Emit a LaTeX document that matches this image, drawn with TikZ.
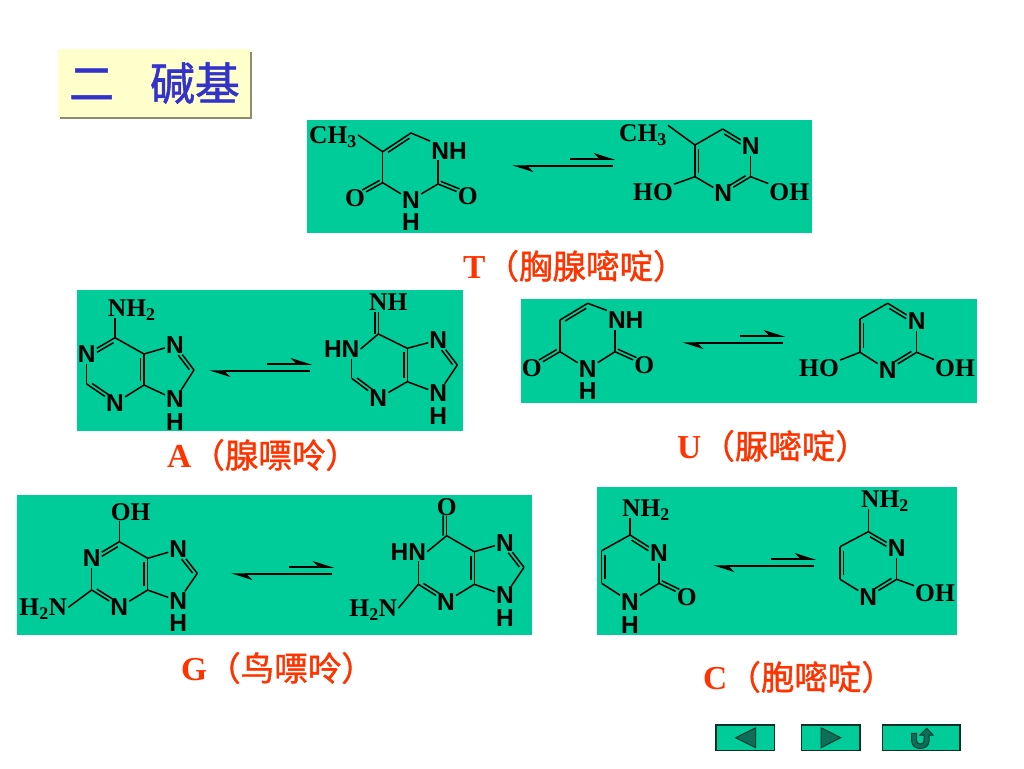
\documentclass[tikz,border=0pt]{standalone}
\usepackage{fontspec}
\setmainfont{Liberation Serif}
\newfontfamily\atomfont{Liberation Sans}
\newfontfamily\cjkfont[FakeBold=1.2]{Noto Sans CJK SC}
\usetikzlibrary{arrows.meta,calc,shadows}
\definecolor{panelgreen}{RGB}{0,204,153}
\definecolor{labelred}{RGB}{255,51,0}
\definecolor{titleblue}{RGB}{51,51,204}
\definecolor{titlefill}{RGB}{255,255,204}
\definecolor{navdark}{RGB}{15,110,90}
\newcommand{\dbl}[5]{\draw[bond] ($(#1)!#4!(#2)!3.5pt!#3:(#2)$) to ($(#2)!#5!(#1)!3.5pt!-#3:(#1)$);}

\begin{document}
\begin{tikzpicture}[x=1pt,y=-1pt]
            \tikzset{panel/.style = {fill=panelgreen}}
            \tikzset{atom/.style = {font=\atomfont\bfseries\fontsize{24.5}{24.5}\selectfont,inner sep=1pt}}
            \tikzset{group/.style = {font=\bfseries\fontsize{25.5}{25.5}\selectfont,inner sep=1pt,text depth=0pt}}
            \tikzset{bond/.style = {line width=1.5pt}}
            \tikzset{edge/.style = {line width=1.5pt}}
            \tikzset{halftip/.style = {-{Stealth[length=19pt,width=12pt,inset=6pt,left]}}}
            \tikzset{name label/.style = {font=\fontsize{33.5}{33.5}\selectfont,text=labelred,inner sep=0pt,anchor=west}}
            \tikzset{navbox/.style = {fill=panelgreen,draw=black!75!panelgreen,line width=1.2pt}}
            \tikzset{navmark/.style = {fill=navdark,draw=black!70!panelgreen,line width=1pt}}
            \useasboundingbox (0,0) rectangle (1024,768);

            \node[fill=titlefill,minimum width=192pt,minimum height=67pt,inner sep=0pt,text=titleblue,
                  font=\cjkfont\fontsize{45}{45}\selectfont,
                  general shadow={fill=black!45!titlefill,shadow xshift=2.5pt,shadow yshift=-2.5pt}]
                  (title) at (153.5,83) {\raisebox{-5pt}{\hspace{2pt}二\hspace{36pt}碱基}};

            \fill[panel] (307,119.5) rectangle (812,233);
            \fill[panel] (77,290) rectangle (463,431);
            \fill[panel] (520.5,299) rectangle (977,403);
            \fill[panel] (17,495) rectangle (531.5,635);
            \fill[panel] (597,487) rectangle (957,635);

            \node[name label] (tname) at (463,266) {\textbf{T}{\cjkfont（胸腺嘧啶）}};
            \node[name label] (aname) at (167,455) {\textbf{A}{\cjkfont（腺嘌呤）}};
            \node[name label] (uname) at (677,446) {\textbf{U}{\cjkfont（脲嘧啶）}};
            \node[name label] (gname) at (181,668) {\textbf{G}{\cjkfont（鸟嘌呤）}};
            \node[name label] (cname) at (703,677) {\textbf{C}{\cjkfont（胞嘧啶）}};

            \foreach \n/\x/\y in {t/613/166,a/310/371,u/783/343,g/332/574,c/814/566} {
                \coordinate (\n low) at (\x,\y);
                \coordinate (\n tip) at (\x-101,\y);
                \coordinate (\n up) at (\x-43,\y-7);
                \coordinate (\n end) at (\x+2,\y-7);
                \draw[edge,halftip] (\n low) to (\n tip);
                \draw[edge,halftip] (\n up) to (\n end);
            }

            \node[group] (tlch) at (333,135) {CH\textsubscript{3}};
            \coordinate (tlc5) at (382.7,151.7);
            \coordinate (tlc6) at (411,133);
            \node[atom] (tln1) at (449,150.7) {NH};
            \coordinate (tlc2) at (438,184);
            \node[atom] (tln3) at (411,200) {N};
            \node[atom] (tlh) at (411,222.5) {H};
            \coordinate (tlc4) at (382.7,182.7);
            \node[group] (tlo4) at (355,198) {O};
            \node[group] (tlo2) at (467.7,196) {O};
            \draw[bond] (tlc5) to (tlch.east);
            \draw[bond] (tlc5) to (tlc6);
            \dbl{tlc5}{tlc6}{-90}{.12}{.12}
            \draw[bond] (tlc6) to (tln1.north west);
            \draw[bond] (tlc2) to (tlc2 |- tln1.south);
            \draw[bond] (tlc2) to (tln3);
            \draw[bond] (tln3) to (tlc4);
            \draw[bond] (tlc4) to (tlc5);
            \draw[bond] (tlc4) to (tlo4);
            \dbl{tlc4}{tlo4}{-90}{.05}{.32}
            \draw[bond] (tlc2) to (tlo2);
            \dbl{tlc2}{tlo2}{90}{.05}{.32}

            \node[group] (trch) at (643,133) {CH\textsubscript{3}};
            \coordinate (trc5) at (695,145);
            \coordinate (trc6) at (722.7,129);
            \node[atom] (trn1) at (750.7,146) {N};
            \coordinate (trc2) at (750.7,176.7);
            \node[atom] (trn3) at (723.3,193.3) {N};
            \coordinate (trc4) at (695,176.7);
            \node[group] (tro4) at (653,191.7) {HO};
            \node[group] (tro2) at (789.3,191.7) {OH};
            \draw[bond] (trc5) to (trch.17);
            \draw[bond] (trc5) to (trc6);
            \draw[bond] (trc6) to (trn1);
            \dbl{trc6}{trn1}{-90}{.12}{.3}
            \draw[bond] (trn1) to (trc2);
            \draw[bond] (trc2) to (trn3);
            \dbl{trc2}{trn3}{-90}{.12}{.3}
            \draw[bond] (trn3) to (trc4);
            \draw[bond] (trc4) to (trc5);
            \dbl{trc4}{trc5}{-90}{.12}{.12}
            \draw[bond] (trc4) to (tro4);
            \draw[bond] (trc2) to (tro2);

            \node[group] (alnh) at (131.7,308) {NH\textsubscript{2}};
            \coordinate (alc6) at (115,337.7);
            \node[atom] (aln1) at (86.7,354.3) {N};
            \coordinate (alc2) at (86.7,384);
            \node[atom] (aln3) at (115,403.3) {N};
            \coordinate (alc4) at (144,385);
            \coordinate (alc5) at (144,354);
            \node[atom] (aln7) at (175,345) {N};
            \coordinate (alc8) at (194,370);
            \node[atom] (aln9) at (175,399.5) {N};
            \node[atom] (alh) at (175,422) {H};
            \draw[bond] (alc6) to (alc6 |- alnh.south);
            \draw[bond] (alc6) to (aln1);
            \dbl{alc6}{aln1}{90}{.12}{.3}
            \draw[bond] (aln1) to (alc2);
            \draw[bond] (alc2) to (aln3);
            \dbl{alc2}{aln3}{90}{.12}{.3}
            \draw[bond] (aln3) to (alc4);
            \draw[bond] (alc4) to (alc5);
            \dbl{alc4}{alc5}{90}{.12}{.12}
            \draw[bond] (alc5) to (alc6);
            \draw[bond] (alc5) to (aln7);
            \draw[bond] (aln7) to (alc8);
            \dbl{aln7}{alc8}{-90}{.32}{.1}
            \draw[bond] (alc8) to (aln9);
            \draw[bond] (aln9) to (alc4);

            \node[group] (arnh) at (388.3,302) {NH};
            \coordinate (artop) at (378.3,312);
            \coordinate (arc6) at (378.3,334);
            \node[atom] (arn1) at (341.7,349) {HN};
            \coordinate (arc2) at (351.7,378.3);
            \node[atom] (arn3) at (378.3,398.3) {N};
            \coordinate (arc4) at (407.3,381.7);
            \coordinate (arc5) at (407.3,348.3);
            \node[atom] (arn7) at (438.3,340) {N};
            \coordinate (arc8) at (457.3,365);
            \node[atom] (arn9) at (438.3,393.3) {N};
            \node[atom] (arh) at (438.3,416) {H};
            \draw[bond] (arc6) to (artop);
            \dbl{arc6}{artop}{90}{0}{0}
            \draw[bond] (arc6) to (arn1.east);
            \draw[bond] (arc2) to (arc2 |- arn1.south);
            \draw[bond] (arc2) to (arn3);
            \dbl{arc2}{arn3}{90}{.12}{.3}
            \draw[bond] (arn3) to (arc4);
            \draw[bond] (arc4) to (arc5);
            \dbl{arc4}{arc5}{90}{.12}{.12}
            \draw[bond] (arc5) to (arc6);
            \draw[bond] (arc5) to (arn7);
            \draw[bond] (arn7) to (arc8);
            \dbl{arn7}{arc8}{-90}{.32}{.1}
            \draw[bond] (arc8) to (arn9);
            \draw[bond] (arn9) to (arc4);

            \coordinate (ulc5) at (560,320);
            \coordinate (ulc6) at (587.7,303.3);
            \node[atom] (uln1) at (625.7,320) {NH};
            \coordinate (ulc2) at (615,351.7);
            \node[atom] (uln3) at (587.7,369) {N};
            \node[atom] (ulh) at (587.7,391.5) {H};
            \coordinate (ulc4) at (560,351.7);
            \node[group] (ulo4) at (531.7,368.3) {O};
            \node[group] (ulo2) at (644.3,365) {O};
            \draw[bond] (ulc5) to (ulc6);
            \dbl{ulc5}{ulc6}{-90}{.12}{.12}
            \draw[bond] (ulc6) to (uln1.north west);
            \draw[bond] (ulc2) to (ulc2 |- uln1.south);
            \draw[bond] (ulc2) to (uln3);
            \draw[bond] (uln3) to (ulc4);
            \draw[bond] (ulc4) to (ulc5);
            \draw[bond] (ulc4) to (ulo4);
            \dbl{ulc4}{ulo4}{-90}{.05}{.32}
            \draw[bond] (ulc2) to (ulo2);
            \dbl{ulc2}{ulo2}{90}{.05}{.32}

            \coordinate (urc5) at (860,319);
            \coordinate (urc6) at (887.7,303.3);
            \node[atom] (urn1) at (916.7,321) {N};
            \coordinate (urc2) at (916.7,352.3);
            \node[atom] (urn3) at (887.7,370) {N};
            \coordinate (urc4) at (860,352.3);
            \node[group] (uro4) at (819,368.3) {HO};
            \node[group] (uro2) at (955,368.3) {OH};
            \draw[bond] (urc5) to (urc6);
            \draw[bond] (urc6) to (urn1);
            \dbl{urc6}{urn1}{-90}{.12}{.3}
            \draw[bond] (urn1) to (urc2);
            \draw[bond] (urc2) to (urn3);
            \dbl{urc2}{urn3}{-90}{.12}{.3}
            \draw[bond] (urn3) to (urc4);
            \draw[bond] (urc4) to (urc5);
            \dbl{urc4}{urc5}{-90}{.12}{.12}
            \draw[bond] (urc4) to (uro4);
            \draw[bond] (urc2) to (uro2);

            \node[group] (gloh) at (130.7,511.7) {OH};
            \coordinate (glc6) at (119.3,541.7);
            \node[atom] (gln1) at (91.7,558.3) {N};
            \coordinate (glc2) at (91.7,590);
            \node[atom] (gln3) at (119.3,607.3) {N};
            \coordinate (glc4) at (147.7,590);
            \coordinate (glc5) at (147.7,558.3);
            \node[atom] (gln7) at (178.3,549.3) {N};
            \coordinate (glc8) at (197.3,573.3);
            \node[atom] (gln9) at (178.3,601) {N};
            \node[atom] (glh) at (178.3,623.5) {H};
            \node[group] (glnh) at (43.3,607.3) {H\textsubscript{2}N};
            \draw[bond] (glc6) to (glc6 |- gloh.south);
            \draw[bond] (glc6) to (gln1);
            \dbl{glc6}{gln1}{90}{.12}{.3}
            \draw[bond] (gln1) to (glc2);
            \draw[bond] (glc2) to (gln3);
            \dbl{glc2}{gln3}{90}{.12}{.3}
            \draw[bond] (glc2) to (glnh.east);
            \draw[bond] (gln3) to (glc4);
            \draw[bond] (glc4) to (glc5);
            \dbl{glc4}{glc5}{90}{.12}{.12}
            \draw[bond] (glc5) to (glc6);
            \draw[bond] (glc5) to (gln7);
            \draw[bond] (gln7) to (glc8);
            \dbl{gln7}{glc8}{-90}{.32}{.1}
            \draw[bond] (glc8) to (gln9);
            \draw[bond] (gln9) to (glc4);

            \node[group] (gro) at (446.7,506.7) {O};
            \coordinate (grc6) at (446.7,535.7);
            \node[atom] (grn1) at (408.3,551.7) {HN};
            \coordinate (grc2) at (418.3,584.3);
            \node[atom] (grn3) at (446,601.7) {N};
            \coordinate (grc4) at (474.3,584.3);
            \coordinate (grc5) at (474.3,551.7);
            \node[atom] (grn7) at (505,542.7) {N};
            \coordinate (grc8) at (524,567.3);
            \node[atom] (grn9) at (505,595.5) {N};
            \node[atom] (grh) at (505,618) {H};
            \node[group] (grnh) at (373.3,608.3) {H\textsubscript{2}N};
            \draw[bond] (grc6) to (gro);
            \dbl{grc6}{gro}{90}{0}{.3}
            \draw[bond] (grc6) to (grn1.east);
            \draw[bond] (grc2) to (grc2 |- grn1.south);
            \draw[bond] (grc2) to (grn3);
            \dbl{grc2}{grn3}{90}{.12}{.3}
            \draw[bond] (grc2) to (grnh.east);
            \draw[bond] (grn3) to (grc4);
            \draw[bond] (grc4) to (grc5);
            \dbl{grc4}{grc5}{90}{.12}{.12}
            \draw[bond] (grc5) to (grc6);
            \draw[bond] (grc5) to (grn7);
            \draw[bond] (grn7) to (grc8);
            \dbl{grn7}{grc8}{-90}{.32}{.1}
            \draw[bond] (grc8) to (grn9);
            \draw[bond] (grn9) to (grc4);

            \node[group] (clnh) at (646,508.3) {NH\textsubscript{2}};
            \coordinate (clc4) at (630,535);
            \node[atom] (cln3) at (659,553.3) {N};
            \coordinate (clc2) at (659,583.3);
            \node[atom] (cln1) at (630,601.7) {N};
            \node[atom] (clh) at (630,625) {H};
            \coordinate (clc6) at (601.7,583.3);
            \coordinate (clc5) at (601.7,550.7);
            \node[group] (clo) at (686.7,596.7) {O};
            \draw[bond] (clc4) to (clc4 |- clnh.south);
            \draw[bond] (clc4) to (cln3);
            \dbl{clc4}{cln3}{-90}{.12}{.3}
            \draw[bond] (cln3) to (clc2);
            \draw[bond] (clc2) to (cln1);
            \draw[bond] (clc2) to (clo);
            \dbl{clc2}{clo}{90}{.05}{.32}
            \draw[bond] (cln1) to (clc6);
            \draw[bond] (clc6) to (clc5);
            \dbl{clc6}{clc5}{-90}{.12}{.12}
            \draw[bond] (clc5) to (clc4);

            \node[group] (crnh) at (885,499.3) {NH\textsubscript{2}};
            \coordinate (crc4) at (868.3,531.7);
            \node[atom] (crn3) at (896.7,548.3) {N};
            \coordinate (crc2) at (896.7,579.3);
            \node[atom] (crn1) at (868.3,596.7) {N};
            \coordinate (crc6) at (840,579.3);
            \coordinate (crc5) at (840,546.7);
            \node[group] (croh) at (935,593.3) {OH};
            \draw[bond] (crc4) to (crc4 |- crnh.south);
            \draw[bond] (crc4) to (crn3);
            \dbl{crc4}{crn3}{-90}{.12}{.3}
            \draw[bond] (crn3) to (crc2);
            \draw[bond] (crc2) to (crn1);
            \dbl{crc2}{crn1}{-90}{.12}{.3}
            \draw[bond] (crc2) to (croh);
            \draw[bond] (crn1) to (crc6);
            \draw[bond] (crc6) to (crc5);
            \dbl{crc6}{crc5}{-90}{.12}{.12}
            \draw[bond] (crc5) to (crc4);

            \draw[navbox] (716,725) rectangle (774.7,750.7);
            \draw[navmark] (735.7,737.7) -- (755.7,727.7) -- (755.7,747.7) -- cycle;
            \draw[navbox] (801.7,725) rectangle (860,750.7);
            \draw[navmark] (840.7,737.7) -- (821,727.7) -- (821,747.7) -- cycle;
            \draw[navbox] (882.7,725) rectangle (960,750.7);
            \draw[navmark] (911.7,733.3) -- (916.7,733.3) -- (916.7,741)
                .. controls (916.7,745) and (924,745) .. (924,741) -- (924,735) -- (920,735)
                -- (926.7,728.3) -- (933,735) -- (929,735) -- (929,741)
                .. controls (929,751) and (911.7,751) .. (911.7,741) -- cycle;
\end{tikzpicture}
\end{document}
